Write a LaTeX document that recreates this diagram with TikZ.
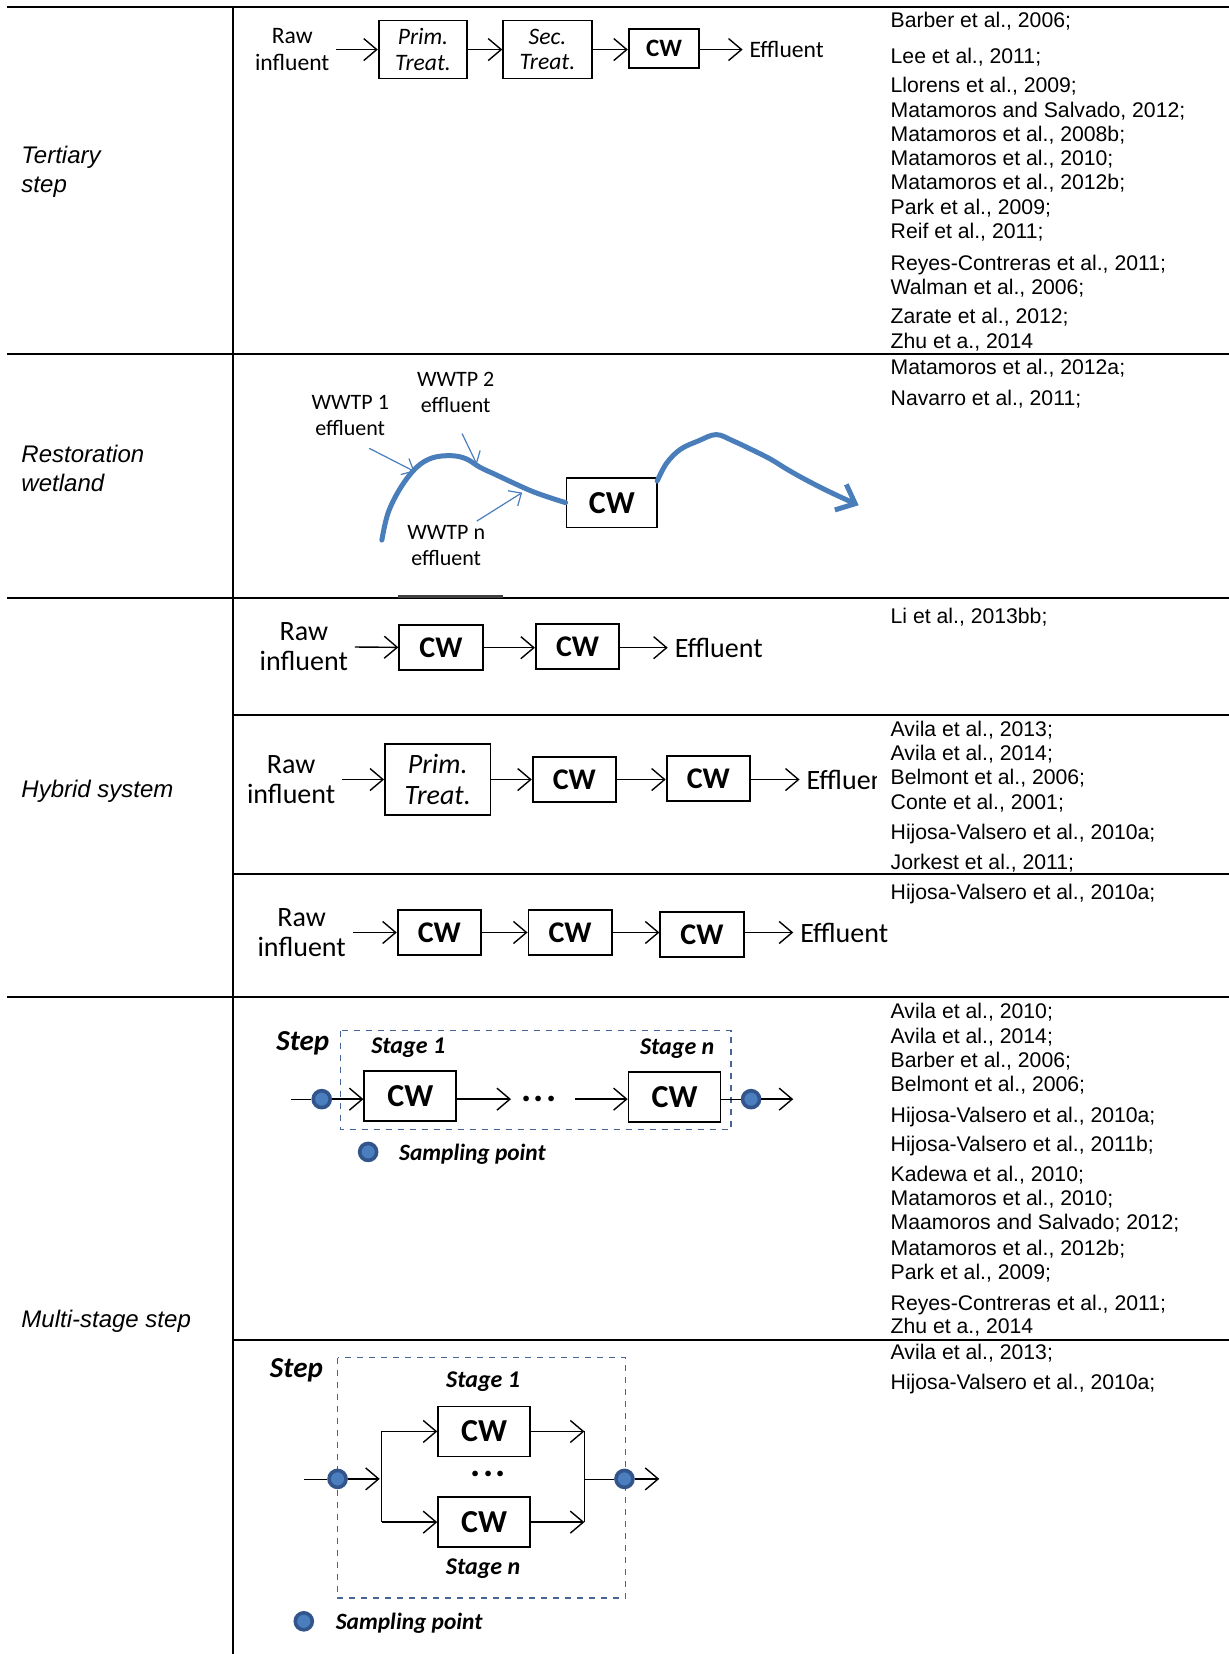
\documentclass[tikz,border=0pt]{standalone}
\usepackage{fontspec}
\usepackage{xcolor}
\usepackage{tikz}
\usetikzlibrary{arrows.meta}
\setmainfont{Carlito}
\newfontfamily\arialfont{Liberation Sans}

\definecolor{riverblue}{RGB}{74,126,187}
\definecolor{dotblue}{RGB}{74,126,190}
\definecolor{dotrim}{RGB}{50,85,140}
\definecolor{dashblue}{RGB}{70,100,150}

\tikzset{
  cite/.style={anchor=base west, inner sep=0pt, font=\arialfont\fontsize{10.6}{12}\selectfont},
  rowlabel/.style={anchor=west, align=left, inner sep=0pt, font=\arialfont\itshape\fontsize{12}{14.2}\selectfont},
  rule/.style={line width=1pt},
  unitbox/.style={draw, line width=0.9pt, inner sep=0pt, align=center},
  flow/.style={line width=0.7pt, -{Straight Barb[length=6.5pt,width=11pt]}},
  cwmid/.style={unitbox, minimum width=41.7pt, minimum height=22.7pt, font=\bfseries\fontsize{15}{17}\selectfont},
  cwbig/.style={unitbox, minimum width=46pt, minimum height=25pt, font=\bfseries\fontsize{16}{18}\selectfont},
  steplbl/.style={font=\bfseries\itshape\fontsize{14.5}{16}\selectfont},
  stagelbl/.style={font=\bfseries\itshape\fontsize{12}{14}\selectfont},
  keylbl/.style={anchor=west, inner sep=0pt, font=\bfseries\itshape\fontsize{11.7}{14}\selectfont},
  dotsym/.style={font=\bfseries\fontsize{19}{20}\selectfont, inner sep=5pt},
  sample/.style={circle, fill=dotblue, draw=dotrim, line width=1.8pt, minimum size=8.5pt, inner sep=0pt},
  stageframe/.style={draw=dashblue, dashed, line width=0.7pt},
  river/.style={draw=riverblue, line width=2.5pt, line cap=round, line join=round},
  feed/.style={draw=riverblue, line width=0.6pt, -{Straight Barb[length=5pt,width=9pt]}}
}

\begin{document}
\begin{tikzpicture}[x=0.5275pt, y=-0.5275pt]
  \fill[white] (0,0) rectangle (1165,1568);
  \useasboundingbox (0,0) rectangle (1165,1568);

  %% table rules
  \draw[rule] (7,7) -- (1165,7);
  \draw[rule] (7,336) -- (1165,336);
  \draw[rule] (7,567) -- (1165,567);
  \draw[rule] (221,678) -- (1165,678);
  \draw[rule] (221,829) -- (1165,829);
  \draw[rule] (7,945) -- (1165,945);
  \draw[rule] (221,1270) -- (1165,1270);
  \draw[rule] (221,7) -- (221,1568);
  \draw[black!75, line width=1.4pt] (377,565.5) -- (477,565.5);

  %% row labels
  \node[rowlabel] (tert)  at (20,163)  {Tertiary\\step};
  \node[rowlabel] (rest)  at (20,444)  {Restoration\\wetland};
  \node[rowlabel] (hyb)   at (20,750)  {Hybrid system};
  \node[rowlabel] (multi) at (20,1253) {Multi-stage step};

  %% Tertiary step
  \node[align=center, font=\fontsize{11.8}{13.2}\selectfont] (raw1) at (277,47) {Raw\\influent};
  \node[unitbox, minimum width=44.3pt, minimum height=29pt, font=\itshape\fontsize{11.8}{12.7}\selectfont] (prim1) at (401,47) {Prim.\\Treat.};
  \node[unitbox, minimum width=44.3pt, minimum height=29pt, font=\itshape\fontsize{11.8}{12.7}\selectfont] (sec1) at (519,47) {Sec.\\Treat.};
  \node[unitbox, minimum width=35.3pt, minimum height=19.5pt, font=\bfseries\fontsize{12.5}{14}\selectfont] (cw1) at (629.5,46) {CW};
  \node[anchor=west, font=\fontsize{11.8}{13.2}\selectfont] (eff1) at (704,47) {Effluent};
  \draw[flow] (raw1) -- (prim1);
  \draw[flow] (prim1) -- (sec1);
  \draw[flow] (sec1) -- (sec1 -| cw1.west);
  \draw[flow] (cw1.east |- eff1) -- (eff1);

  %% Restoration wetland
  \node[align=center, font=\fontsize{11}{12.7}\selectfont] (wwtp1) at (332,394) {WWTP 1\\effluent};
  \node[align=center, font=\fontsize{11}{12.7}\selectfont] (wwtp2) at (432,372) {WWTP 2\\effluent};
  \node[align=center, font=\fontsize{11}{12.7}\selectfont] (wwtpn) at (423,517) {WWTP n\\effluent};
  \node[unitbox, minimum width=45.4pt, minimum height=24.8pt, font=\bfseries\fontsize{16}{18}\selectfont] (cwr) at (580,476.5) {CW};
  \draw[river] plot[smooth, tension=0.6] coordinates {(362,512) (368,486) (380,462) (395,443) (410,434) (428,432) (442,435) (455,443) (470,450) (487,458) (505,466) (522,472) (cwr.west)};
  \draw[river, -{Straight Barb[length=8pt,width=14pt]}] plot[smooth, tension=0.6] coordinates {(623,456) (632,439) (645,426) (662,418) (679,412) (695,418) (712,426) (730,435) (748,446) (768,457) (790,468) (814,479)};
  \coordinate (f1) at (350,425);
  \coordinate (j1) at (393,447);
  \coordinate (f2) at (438,411);
  \coordinate (j2) at (452,440);
  \coordinate (fn) at (452,494);
  \coordinate (jn) at (495,467);
  \draw[feed] (f1) -- (j1);
  \draw[feed] (f2) -- (j2);
  \draw[feed] (fn) -- (jn);

  %% Hybrid system, row 1
  \node[align=center, font=\fontsize{14}{14.8}\selectfont] (rawh1) at (288,613) {Raw\\influent};
  \node[cwmid] (h1a) at (418,614) {CW};
  \node[cwmid] (h1b) at (547.5,613) {CW};
  \node[anchor=west, font=\fontsize{14}{16}\selectfont] (effh1) at (633,614) {Effluent};
  \draw[flow] (rawh1) -- (h1a);
  \draw[flow] (h1a) -- (h1a -| h1b.west);
  \draw[flow] (h1b.east |- effh1) -- (effh1);

  %% Hybrid system, row 2
  \node[align=center, font=\fontsize{14}{14.8}\selectfont] (rawh2) at (276,739) {Raw\\influent};
  \node[unitbox, minimum width=52.8pt, minimum height=35.3pt, font=\itshape\fontsize{14}{15.3}\selectfont] (h2p) at (415,739) {Prim.\\Treat.};
  \node[cwmid] (h2a) at (544.5,739) {CW};
  \node[cwmid] (h2b) at (671.5,738) {CW};
  \begin{scope}
    \clip (740,715) rectangle (831,765);
    \node[anchor=west, font=\fontsize{14}{16}\selectfont] (effh2) at (758,739) {Effluent};
  \end{scope}
  \draw[flow] (rawh2) -- (h2p);
  \draw[flow] (h2p) -- (h2a);
  \draw[flow] (h2a) -- (h2a -| h2b.west);
  \draw[flow] (h2b.east |- effh2) -- (effh2);

  %% Hybrid system, row 3
  \node[align=center, font=\fontsize{14}{14.8}\selectfont] (rawh3) at (286,884) {Raw\\influent};
  \node[cwmid] (h3a) at (416.5,884) {CW};
  \node[cwmid] (h3b) at (540.5,884) {CW};
  \node[cwmid] (h3c) at (665.5,886) {CW};
  \node[anchor=west, font=\fontsize{14}{16}\selectfont] (effh3) at (752,884) {Effluent};
  \draw[flow] (rawh3) -- (h3a);
  \draw[flow] (h3a) -- (h3b);
  \draw[flow] (h3b) -- (h3c.west |- h3b);
  \draw[flow] (h3c.east |- effh3) -- (effh3);

  %% Multi-stage step, series
  \node[steplbl] (step1) at (287,989) {Step};
  \draw[stageframe] (323,977) rectangle (693,1071);
  \node[stagelbl] (s1first) at (387,993) {Stage 1};
  \node[stagelbl] (s1last)  at (642,994) {Stage n};
  \coordinate (in1) at (276,1042);
  \node[sample] (sp1) at (305,1042) {};
  \node[cwbig] (m1a) at (389,1039) {CW};
  \node[dotsym] (m1dots) at (511,1042) {.\kern1.2pt.\kern1.2pt.};
  \node[cwbig] (m1b) at (639.5,1040) {CW};
  \node[sample] (sp2) at (712,1042) {};
  \coordinate (out1) at (752,1042);
  \draw (in1) -- (sp1);
  \draw[flow] (sp1) -- (sp1 -| m1a.west);
  \draw[flow] (m1a.east |- m1dots) -- (m1dots);
  \draw[flow, shorten <=4pt] (m1dots) -- (m1dots -| m1b.west);
  \draw (m1b.east |- sp2) -- (sp2);
  \draw[flow] (sp2) -- (out1);
  \node[sample] (key1) at (349,1092) {};
  \node[keylbl] (key1txt) at (378,1094) {Sampling point};

  %% Multi-stage step, parallel
  \node[steplbl] (step2) at (281,1299) {Step};
  \draw[stageframe] (320,1287) rectangle (593,1515);
  \node[stagelbl] (s2first) at (458,1310) {Stage 1};
  \node[stagelbl] (s2last)  at (458,1487) {Stage n};
  \coordinate (in2) at (288,1402);
  \node[sample] (sp3) at (320,1402) {};
  \coordinate (fork)  at (360,1402);
  \coordinate (forka) at (362,1357);
  \coordinate (forkb) at (362,1443);
  \node[cwbig] (m2a) at (459,1357) {CW};
  \node[cwbig] (m2b) at (459,1443) {CW};
  \node[dotsym] (m2dots) at (463,1397) {.\kern1.2pt.\kern1.2pt.};
  \coordinate (joina) at (554,1357);
  \coordinate (joinb) at (554,1443);
  \coordinate (join)  at (554,1402);
  \node[sample] (sp4) at (592,1402) {};
  \coordinate (out2) at (625,1402);
  \draw (in2) -- (sp3);
  \draw[flow] (sp3) -- (fork);
  \draw (forka) -- (forkb);
  \draw[flow] (forka) -- (m2a);
  \draw[flow] (forkb) -- (m2b);
  \draw[flow] (m2a) -- (joina);
  \draw[flow] (m2b) -- (joinb);
  \draw (joina) -- (joinb);
  \draw (join) -- (sp4);
  \draw[flow] (sp4) -- (out2);
  \node[sample] (key2) at (288,1537) {};
  \node[keylbl] (key2txt) at (318,1539) {Sampling point};

  %% references
  \foreach \yy/\txt in {26/{Barber et al., 2006;}, 60/{Lee et al., 2011;}, 88/{Llorens et al., 2009;},
      111/{Matamoros and Salvado, 2012;}, 134/{Matamoros et al., 2008b;}, 157/{Matamoros et al., 2010;},
      180/{Matamoros et al., 2012b;}, 203/{Park et al., 2009;}, 226/{Reif et al., 2011;},
      256/{Reyes-Contreras et al., 2011;}, 279/{Walman et al., 2006;}, 307/{Zarate et al., 2012;},
      330/{Zhu et a., 2014}, 355/{Matamoros et al., 2012a;}, 384/{Navarro et al., 2011;},
      591/{Li et al., 2013bb;}, 698/{Avila et al., 2013;}, 721/{Avila et al., 2014;},
      744/{Belmont et al., 2006;}, 767/{Conte et al., 2001;}, 796/{Hijosa-Valsero et al., 2010a;},
      824/{Jorkest et al., 2011;}, 853/{Hijosa-Valsero et al., 2010a;}}
    \node[cite] (ref\yy) at (844,\yy) {\txt};
  \foreach \yy/\txt in {966/{Avila et al., 2010;}, 989/{Avila et al., 2014;}, 1012/{Barber et al., 2006;},
      1035/{Belmont et al., 2006;}, 1064/{Hijosa-Valsero et al., 2010a;}, 1092/{Hijosa-Valsero et al., 2011b;},
      1120/{Kadewa et al., 2010;}, 1143/{Matamoros et al., 2010;}, 1166/{Maamoros and Salvado; 2012;},
      1190/{Matamoros et al., 2012b;}, 1213/{Park et al., 2009;}, 1242/{Reyes-Contreras et al., 2011;},
      1264/{Zhu et a., 2014}, 1289/{Avila et al., 2013;}, 1317/{Hijosa-Valsero et al., 2010a;}}
    \node[cite] (ref\yy) at (844,\yy) {\txt};
\end{tikzpicture}
\end{document}
